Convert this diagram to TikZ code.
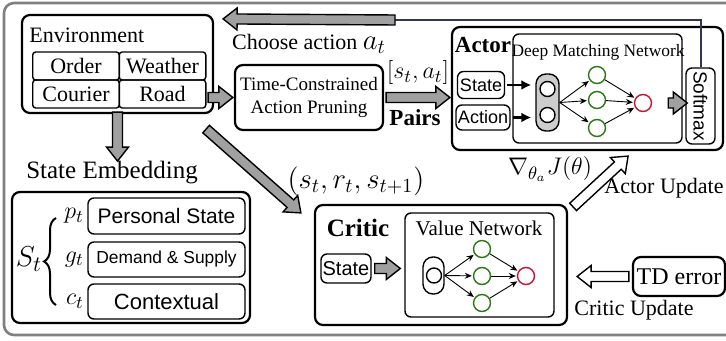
\documentclass[tikz,border=0pt]{standalone}
\usepackage{amsmath}
\usepackage{amssymb}
\usepackage[no-math]{fontspec}
\setmainfont{Liberation Serif}
\setsansfont{Liberation Sans}
\usepackage{tikz}
\usetikzlibrary{arrows.meta,shapes,calc,positioning,decorations.pathreplacing}
\definecolor{arrgray}{RGB}{160,160,160}
\definecolor{colgray}{RGB}{205,205,205}
\definecolor{ngreen}{RGB}{40,120,20}
\definecolor{nred}{RGB}{200,20,50}
\definecolor{fbblue}{RGB}{45,55,85}
\tikzstyle{bigbox}=[draw, rounded corners=4pt, line width=1.1pt,
                    inner sep=0pt]
\tikzstyle{box}   =[draw, rounded corners=3pt, line width=0.7pt,
                    inner sep=0pt]
\tikzstyle{cell}  =[draw, rounded corners=1.5pt, line width=0.7pt,
                    minimum width=43.3pt, minimum height=14pt, inner sep=0pt]
\tikzstyle{tag}   =[draw, rounded corners=3pt, line width=0.7pt,
                    inner sep=0pt, font=\sffamily\fontsize{9}{10}\selectfont]
\tikzstyle{txt}   =[inner sep=1pt, fill=none, draw=none]
\tikzstyle{neuron}=[circle, draw, minimum size=8.5pt, inner sep=0pt,
                    line width=0.7pt, fill=white]
\tikzstyle{edge}  =[-{Stealth[length=3.5pt,width=3pt]}, line width=0.45pt,
                    shorten >=0.5pt]
\tikzstyle{feed}  =[-{Latex[length=5pt,width=5pt]}, line width=1.3pt,
                    shorten <=1pt, shorten >=2pt]
\tikzstyle{blk}   =[draw, line width=0.7pt, line join=miter]

% block arrow: [fill]{from}{to}
\newcommand{\blkarrow}[3][arrgray]{%
  \coordinate (bas) at #2;
  \coordinate (bae) at #3;
  \coordinate (bam) at ($(bae)!7pt!(bas)$);
  \draw[blk, fill=#1] ($(bas)!2.5pt!90:(bae)$) -- ($(bam)!2.5pt!90:(bae)$)
    -- ($(bam)!5.5pt!90:(bae)$) -- (bae) -- ($(bam)!5.5pt!-90:(bae)$)
    -- ($(bam)!2.5pt!-90:(bae)$) -- ($(bas)!2.5pt!-90:(bae)$) -- cycle;
}

\begin{document}
\begin{tikzpicture}[x=0.5pt, y=-0.5pt, font=\fontsize{11}{13}\selectfont]
    \useasboundingbox (0,0) rectangle (726,341);
    \clip (0,0) rectangle (726,341);
    \draw[gray, line width=1.3pt, rounded corners=5pt] (4,3) rectangle (760,335);

    % environment
    \node[bigbox, minimum width=95.5pt, minimum height=49pt] (env) at (117.5,64) {};
    \node[txt, anchor=west] (envlab) at (27,35) {Environment};
    \node[cell] (order) at (76,66) {Order};
    \node[cell] (weather) at (162.5,66) {Weather};
    \node[cell] (courier) at (76,94) {Courier};
    \node[cell] (road) at (162.5,94) {Road};

    % pruning
    \node[bigbox, minimum width=74pt, minimum height=32.5pt, align=center,
          font=\fontsize{9.5}{11.5}\selectfont] (prune) at (309,97.5)
          {Time-Constrained\\Action Pruning};
    \blkarrow{($(env.east |- prune.west)+(-6,0)$)}{($(prune.west)+(-1,0)$)}

    % actor
    \node[bigbox, minimum width=135.5pt, minimum height=61.5pt] (actor) at (587.5,88.5) {};
    \node[txt, font=\bfseries\fontsize{11.5}{13}\selectfont] (actorlab) at (483,45) {Actor};
    \node[box, minimum width=84.5pt, minimum height=54.5pt] (dmn) at (597.5,88.5) {};
    \node[txt, font=\fontsize{8.7}{10}\selectfont] (dmnlab) at (598,52) {Deep Matching Network};
    \node[tag, minimum width=23.5pt, minimum height=13.5pt] (astate) at (481,85) {State};
    \node[tag, minimum width=27pt, minimum height=12.5pt] (aaction) at (483,117.5) {Action};
    \node[box, fill=colgray, minimum width=11.5pt, minimum height=28.5pt,
          rounded corners=5pt] (acol) at (547.5,102.5) {};
    \node[neuron, minimum size=7.5pt] (ai1) at (547.5,89) {};
    \node[neuron, minimum size=7.5pt] (ai2) at (547.5,115) {};
    \node[neuron, draw=ngreen] (ah1) at (597,75) {};
    \node[neuron, draw=ngreen] (ah2) at (597,100) {};
    \node[neuron, draw=ngreen] (ah3) at (597,128) {};
    \node[neuron, draw=nred] (ao) at (643,103) {};
    \foreach \h in {ah1,ah2,ah3} {
        \draw[edge] (acol.east) -- (\h);
        \draw[edge] (\h) -- (ao);
    }
    \draw[feed] (astate.east) -- (acol.west |- astate.east);
    \draw[feed] (aaction.east) -- (acol.west |- aaction.east);
    \node[box, minimum width=14.5pt, minimum height=38pt,
          font=\sffamily\fontsize{9.5}{11}\selectfont] (softmax) at (700.5,106)
          {\rotatebox{-90}{Softmax}};
    \blkarrow{($(ao.east)+(16,0)$)}{($(softmax.west |- ao)+(2,0)$)}

    % choose action feedback
    \coordinate (fbend) at (395,20);
    \draw[fbblue, line width=1pt] (softmax.north) |- (fbend);
    \blkarrow{(fbend)}{($(env.north east)+(9,5)$)}
    \node[txt] (choose) at (309,44) {Choose action {\fontsize{14}{16}\selectfont$a_t$}};

    % pairs
    \node[txt, font=\fontsize{12.5}{14}\selectfont] (pairlab) at (418,73) {$[s_t, a_t]$};
    \blkarrow{($(prune.east)+(2,0)$)}{($(actor.west |- prune.east)+(-1,0)$)}
    \node[txt, font=\bfseries\fontsize{11.5}{13}\selectfont] (pairs) at (415,118) {Pairs};

    % state embedding
    \blkarrow{($(env.south)+(0,-2)$)}{($(env.south)+(0,47)$)}
    \node[txt, font=\fontsize{12.5}{14}\selectfont] (semblab) at (112,173) {State Embedding};
    \node[bigbox, minimum width=119pt, minimum height=65.5pt] (semb) at (131,257.5) {};
    \node[box, minimum width=78.5pt, minimum height=18pt,
          font=\sffamily\fontsize{10.5}{12}\selectfont] (pers) at (166.5,216) {Personal State};
    \node[box, minimum width=78.5pt, minimum height=17.5pt,
          font=\sffamily\fontsize{8.7}{10}\selectfont] (demand) at (166.5,259.5) {Demand \& Supply};
    \node[box, minimum width=78.5pt, minimum height=17.5pt,
          font=\sffamily\fontsize{11}{12}\selectfont] (context) at (166.5,301.5) {Contextual};
    \node[txt, left=0.5pt of pers, font=\fontsize{13}{15}\selectfont] (pt) {$p_t$};
    \node[txt, left=0.5pt of demand, font=\fontsize{13}{15}\selectfont] (gt) {$g_t$};
    \node[txt, left=0.5pt of context, font=\fontsize{13}{15}\selectfont] (ct) {$c_t$};
    \node[txt, font=\fontsize{15}{17}\selectfont] (st) at (29,259) {$S_t$};
    \coordinate (btop) at (56,218);
    \coordinate (bbot) at (56,305);
    \draw[decorate, decoration={brace, amplitude=6pt}, line width=1pt] (bbot) -- (btop);

    % critic
    \node[bigbox, minimum width=126pt, minimum height=60pt] (critic) at (441,265) {};
    \blkarrow{($(env.south east)+(-8,15)$)}{($(critic.north west)+(-13,9)$)}
    \node[txt, font=\fontsize{14}{16}\selectfont] (trans) at (356,181) {$(s_t, r_t, s_{t+1})$};
    \node[txt, font=\bfseries\fontsize{12.5}{14}\selectfont] (criticlab) at (358,228) {Critic};
    \node[box, minimum width=74.5pt, minimum height=52pt] (vnet) at (479.5,265) {};
    \node[txt, font=\fontsize{10.5}{12}\selectfont] (vnetlab) at (479,228) {Value Network};
    \node[tag, minimum width=25pt, minimum height=14.5pt,
          font=\sffamily\fontsize{10}{11}\selectfont] (cstate) at (346,268.5) {State};
    \blkarrow{($(cstate.east)+(3,0)$)}{($(vnet.west |- cstate)+(-4,0)$)}
    \node[box, minimum width=10.5pt, minimum height=18.5pt, rounded corners=5pt] (vcol) at (433.5,275.5) {};
    \node[neuron, minimum size=7.5pt] (vi) at (434,275.5) {};
    \node[neuron, draw=ngreen] (vh1) at (482,249) {};
    \node[neuron, draw=ngreen] (vh2) at (482,276) {};
    \node[neuron, draw=ngreen] (vh3) at (482,303) {};
    \node[neuron, draw=nred] (vo) at (526,276) {};
    \foreach \h in {vh1,vh2,vh3} {
        \draw[edge] (vcol.east) -- (\h);
        \draw[edge] (\h) -- (vo);
    }

    % updates
    \blkarrow[white]{($(critic.north east)+(5,3)$)}{($(actor.south east)+(-96,5)$)}
    \node[txt, font=\fontsize{13}{15}\selectfont] (grad) at (550,169) {$\nabla_{\theta_a} J(\theta)$};
    \node[txt] (aupd) at (664,188) {Actor Update};
    \node[bigbox, minimum width=46pt, minimum height=19.5pt,
          font=\fontsize{12}{14}\selectfont] (td) at (679,276.5) {TD error};
    \blkarrow[white]{($(td.west)+(-3,0)$)}{($(critic.east |- td.west)+(9,0)$)}
    \node[txt] (cupd) at (634,310) {Critic Update};
\end{tikzpicture}
\end{document}
